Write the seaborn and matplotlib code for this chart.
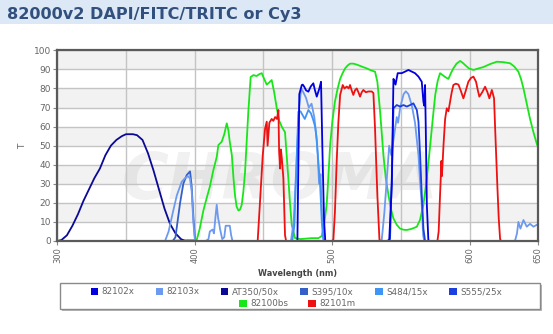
import matplotlib
matplotlib.use("Agg")
import matplotlib.pyplot as plt
from matplotlib.patches import Rectangle
import seaborn as sns

sns.set_style("white")
plt.rcParams["font.family"] = ["DejaVu Sans"]

# ---- spectra (wavelength nm, transmission %) ----
at350_nm = [300, 303, 307, 311, 315, 319, 323, 327, 331, 335, 339, 343, 347, 350, 355, 358,
            362, 366, 370, 374, 378, 382, 386, 390, 393, 396]
at350_t = [0, 0.5, 3, 8, 14, 21, 27, 33, 38, 45, 50, 53, 55, 56, 56, 55.5,
           53, 46, 37, 27, 17, 9, 4, 1, 0, 0]

s395_nm = [384, 386, 387, 389.3, 391.7, 394.2, 396.6, 397.8, 399, 400.2, 401]
s395_t = [0, 2, 7.5, 19.8, 30, 34.6, 36.5, 28.5, 12.7, 1, 0]

x82103_nm = [378.4, 381, 384.4, 387, 390.5, 393, 395, 396.5, 397.8, 399, 400.2,
             408, 410, 411, 413, 414, 415, 416, 417, 417.6, 418.5, 420, 421.5, 422.5, 425.5, 426.5, 427.5,
             470, 472, 474, 476, 477.5, 479, 481, 483, 485, 487, 488.5, 489.5, 490.5, 491.5, 492.5, 493.5, 494.5,
             536, 538, 540, 541.5, 543, 545, 547, 548, 549.5, 552, 553.6, 555.5, 558, 560.3, 562.8, 564, 565.2,
             566.2, 567,
             633, 634.5, 635.5, 637, 639.2, 641.6, 644, 646.5, 648.9, 650]
x82103_t = [0, 5, 16, 24, 31, 33, 34, 33, 26, 10, 0,
            0, 1, 5, 6, 4, 12, 19, 12, 10, 6, 1, 2, 8, 8, 3, 0,
            0, 10, 40, 70, 80, 78, 75, 70, 72, 65, 55, 45, 30, 35, 15, 2, 0,
            0, 15, 35, 50, 45, 55, 65, 62, 70, 77, 78.5, 77, 71, 62, 45, 31, 19,
            3, 0,
            0, 4, 10, 6.5, 11, 7.5, 9, 7.5, 8.5, 8]

s484_nm = [471, 472.5, 473.8, 475.4, 477, 478.5, 480.1, 482.7, 484.5, 486, 487.6, 488.8, 490,
           491.3, 492.4, 493.6, 494.5]
s484_t = [0, 8, 35, 67.8, 68, 66, 64, 68.7, 67, 64, 60, 53, 40.7, 28.5, 11, 0.5, 0]

s555_nm = [540, 542.1, 543.5, 544.6, 547, 549.5, 551.9, 554.3, 556.8, 559.1, 561.6, 562.8, 564,
           565.2, 566.4, 567.6]
s555_t = [0, 1, 35, 69.6, 71.3, 70.5, 71.3, 70.5, 71.3, 72.2, 68.7, 62.6, 45, 24, 6.5, 0]

x82102_nm = [474, 474.7, 475.4, 476.1, 477.9, 478.6, 479.6, 481, 482.7, 484.4, 486.3, 487.5, 488.8,
             490.7, 491.9, 492.9, 494.1, 495,
             541.5, 543.4, 544.6, 545.3, 546.1, 547.7, 550.6, 553, 555.5, 558, 560.3, 562.8, 565.2,
             566.4, 567, 567.6, 568.1, 568.9, 570, 571]
x82102_t = [0, 0, 40, 77, 81.8, 82, 81, 79, 78.3, 81, 82.7, 79, 75.7, 80, 83.5, 48, 11, 0,
            0, 30, 85, 84, 82, 88, 88, 88.8, 89.7, 88.8, 88, 86.2, 83.5, 73, 71, 81.8, 60, 19, 0.5, 0]

bs_nm = [380, 395, 400, 401.4, 403.5, 406.3, 408.5, 411, 413.5, 416, 417.2, 419.6, 421.5, 423.3,
         424.5, 425.5, 427, 428.2, 429.3, 430.5, 431.8, 433, 434.2, 435.4, 436.6, 437.8, 439, 440.7,
         442.7, 445, 447, 448.8, 450.5, 452.4, 454, 456, 457.8, 459.7, 461.5, 463.3, 465.7, 466.9,
         468.1, 469.3, 470.6, 473, 477, 485, 490, 492.4, 494.2, 496, 497.2, 498.5, 500.2, 502, 504,
         505.8, 507.6, 509.4, 511.2, 513, 515.5, 517.9, 521.5, 525.2, 528.2, 531.2, 532.9, 534.9,
         537.3, 539, 541, 542.7, 544.5, 547, 549.4, 552, 554.3, 557, 559, 561.6, 563.9, 566.4, 568.9,
         571.3, 573.2, 575, 576.8, 578.5, 580.4, 582.2, 584.6, 586.4, 588.2, 590.5, 593.1, 594.9,
         596.7, 599.5, 602.8, 606.5, 610, 615, 619.8, 624.5, 629.5, 632.5, 635.5, 637.4, 639.2,
         641.6, 644, 646.5, 648.9, 650]
bs_t = [0, 0.5, 0.5, 0.5, 6, 16, 22, 28.5, 37, 44, 50.3, 52, 56, 61.7,
        58, 52, 45, 33, 24, 18, 16, 16.5, 19, 26, 36, 52, 67.8, 86,
        87, 86.5, 87.5, 88, 85, 82, 83, 84.4, 78, 69.6, 63, 60, 57, 45,
        33, 20, 8.4, 1.5, 1, 1.5, 1.5, 2.6, 9, 19, 33, 50, 63, 73, 80,
        85, 88, 90.5, 92, 93, 93, 92.5, 91.5, 90.5, 89.5, 88.8, 83.5, 67.8,
        45, 33, 24, 17, 12, 8.5, 6.5, 5.9, 5.8, 6.2, 6.7, 7.5, 11, 19, 33,
        50, 64, 76.6, 84, 88, 87, 86, 85, 88, 90.5, 93, 94.4, 93.5,
        92.3, 90.5, 89.7, 90.5, 91.2, 92.8, 94, 93.8, 93.2, 91.5, 88.8, 85, 80,
        72, 64, 57, 51, 49]

em_nm = [445.8, 447.5, 449.5, 451.2, 452.4, 453, 454.3, 456, 457.2, 458.5, 459.8, 460.9, 461.4,
         462.1, 462.7, 463.3, 464.5, 465.7, 466.5,
         500, 500.9, 502, 503.3, 504.5, 505.8, 507.7, 509, 510.6, 512, 513, 514.2, 515.4, 516.6,
         517.9, 519.1, 520.3, 521.5, 522.7, 524.5, 526.3, 528.8, 530, 531.2, 532.1, 532.9, 534.4, 535.2,
         576.6, 577.5, 578.5, 579.2, 579.5, 579.8, 580.3, 581, 582.2, 583.4, 584.6, 585.8, 587,
         588.2, 590, 591.9, 593.5, 595.5, 597.3, 599.1, 601, 602.8, 604.7, 606, 607.1, 609.2,
         611.3, 613, 614.4, 616.2, 617.8, 618.6, 620.2, 621.2, 622.2, 623]
em_t = [0, 20.6, 45, 59, 62.6, 50, 62, 64, 63, 65, 64, 68.7, 47,
        38, 48, 44, 33, 3, 0,
        0, 0.8, 15, 41.6, 62, 76.6, 81.8, 80, 81, 80, 81.8, 79, 76.6, 79,
        80, 78, 75.7, 78, 79.2, 78, 78.4, 78.4, 77.6, 59, 40, 24, 0.8, 0,
        0, 5, 24, 36, 42, 34, 40, 50, 64, 69.6, 68, 73, 78,
        81.8, 82.5, 82, 79, 74.8, 79, 83.5, 85.5, 86.2, 83.5, 79, 75.7, 78,
        80.9, 78, 74.8, 79.2, 74.8, 59, 29, 12, 1, 0]

series = [
    ("82100bs", bs_nm, bs_t, "#19e619"),
    ("82101m", em_nm, em_t, "#ee1111"),
    ("AT350/50x", at350_nm, at350_t, "#0a0a96"),
    ("S395/10x", s395_nm, s395_t, "#3560c8"),
    ("82103x", x82103_nm, x82103_t, "#6c9af0"),
    ("S484/15x", s484_nm, s484_t, "#3d95f5"),
    ("S555/25x", s555_nm, s555_t, "#1c3fe0"),
    ("82102x", x82102_nm, x82102_t, "#0000e0"),
]
legend_rows = [
    ["82102x", "82103x", "AT350/50x", "S395/10x", "S484/15x", "S555/25x"],
    ["82100bs", "82101m"],
]
colors = {name: c for name, _, _, c in series}

W, H = 553, 334
fig = plt.figure(figsize=(W / 100, H / 100), dpi=100)
fig.patch.set_facecolor("white")

# header band
fig.patches.append(Rectangle((0, 1 - 24 / H), 1, 24 / H, transform=fig.transFigure,
                             facecolor="#dce8f5", edgecolor="none", zorder=0))
fig.text(7 / W, 1 - 18.5 / H, "82000v2 DAPI/FITC/TRITC or Cy3", fontsize=11.6,
         fontweight="bold", color="#32507e", va="baseline", ha="left")

x0, x1, ytop, ybot = 57.3, 538.3, 50.3, 241.0
ax = fig.add_axes([x0 / W, 1 - ybot / H, (x1 - x0) / W, (ybot - ytop) / H])
ax.set_xlim(300, 650)
ax.set_ylim(0, 100)

# striped plot background and faint brand mark
for lo in range(10, 100, 20):
    ax.axhspan(lo, lo + 10, color="#f2f2f2", zorder=0, lw=0)
ax.text(462, 22, "CHROMA", fontsize=46, fontweight="bold", fontstyle="italic",
        color="#000000", alpha=0.055, ha="center", va="baseline", zorder=0.5,
        clip_on=True)

for name, nm, t, c in series:
    sns.lineplot(x=nm, y=t, color=c, lw=1.3, ax=ax, estimator=None, sort=False,
                 legend=False, zorder=2)

ax.set_xticks([300, 400, 500, 600, 650])
ax.set_xticks([350, 450, 550], minor=True)
ax.set_yticks(range(0, 101, 10))
ax.grid(True, which="both", color="#c4c4c4", lw=1.0, zorder=1)
ax.set_axisbelow(True)
ax.tick_params(axis="y", labelsize=6.5, colors="#888888", labelcolor="#666666",
               length=3, width=0.8, pad=1.5, direction="out", left=True)
ax.tick_params(axis="x", which="major", labelsize=6.0, colors="#888888",
               labelcolor="#666666", length=3, width=0.8, pad=1.5, labelrotation=90,
               bottom=True)
ax.tick_params(axis="x", which="minor", length=0)
for s in ax.spines.values():
    s.set_color("#5a5a5a")
    s.set_linewidth(1.6)
    s.set_zorder(3)

fig.text(23 / W, 1 - 146 / H, "T", fontsize=6.5, color="#666666", rotation=90,
         ha="center", va="center")
fig.text(297.8 / W, 1 - 273.3 / H, "Wavelength (nm)", fontsize=5.9, fontweight="bold",
         color="#444444", ha="center", va="center")

# legend box with a soft shadow
lx0, lx1, ly0, ly1 = 60, 540, 283.3, 309.3
fig.patches.append(Rectangle(((lx0 + 2) / W, 1 - (ly1 + 2) / H), (lx1 - lx0) / W,
                             (ly1 - ly0) / H, transform=fig.transFigure,
                             facecolor="#b8b8b8", edgecolor="none", zorder=1))
fig.patches.append(Rectangle((lx0 / W, 1 - ly1 / H), (lx1 - lx0) / W, (ly1 - ly0) / H,
                             transform=fig.transFigure, facecolor="white",
                             edgecolor="#8a8a8a", lw=1.0, zorder=2))
row_y = [291.7, 303.3]
row_x = [[90.7, 155.7, 220.7, 300.0, 375.0, 449.0], [239.0, 308.3]]
for names, xs, yc in zip(legend_rows, row_x, row_y):
    for name, mx in zip(names, xs):
        fig.patches.append(Rectangle((mx / W, 1 - (yc + 3.5) / H), 7.5 / W, 7 / H,
                                     transform=fig.transFigure, facecolor=colors[name],
                                     edgecolor="none", zorder=3))
        fig.text((mx + 11) / W, 1 - yc / H, name, fontsize=6.3, color="#666666",
                 ha="left", va="center", zorder=3)

fig.savefig("out.png", dpi=100)
